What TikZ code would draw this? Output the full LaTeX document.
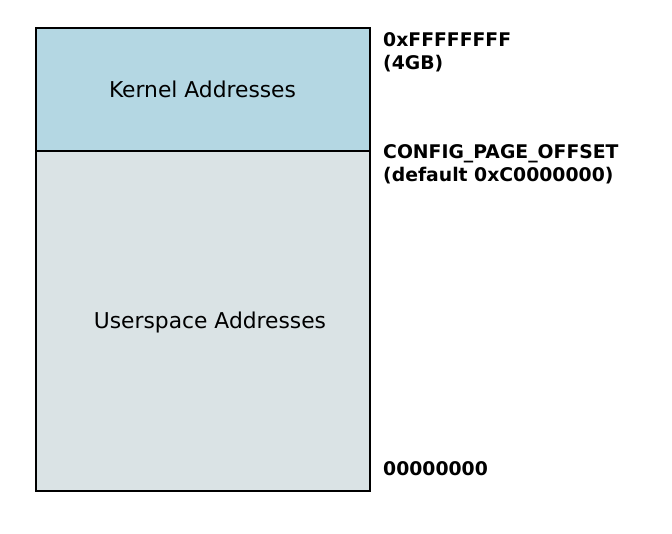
\documentclass[tikz,border=0pt]{standalone}
\usepackage{fontspec}
\setmainfont{DejaVu Sans}
\begin{document}
\begin{tikzpicture}[x=1pt,y=-1pt,
  region/.style={draw=black, line width=2pt},
  regiontext/.style={font=\fontsize{21.8}{25}\selectfont, anchor=base, inner sep=0pt},
  addr/.style={font=\fontsize{18.8}{22}\selectfont\bfseries, anchor=base west, inner sep=0pt}]
\useasboundingbox (0,0) rectangle (672,534);
\fill[fill={rgb,255:red,180;green,215;blue,227}] (35.5,28.5) rectangle (370,151);
\fill[fill={rgb,255:red,218;green,227;blue,229}] (35.5,151) rectangle (370,491);
\draw[region] (35.5,28.5) rectangle (370,491);
\draw[region] (35.5,151) -- (370,151);
\node[regiontext] (kernel) at (202.5,97.7) {Kernel Addresses};
\node[regiontext] (user) at (210,329) {Userspace Addresses};
\node[addr] (top) at (383,47) {0xFFFFFFFF};
\node[addr] (topgb) at (383,69.5) {(4GB)};
\node[addr] (cfg) at (383,158.3) {CONFIG\_PAGE\_OFFSET};
\node[addr] (cfgdef) at (383,181.5) {(default 0xC0000000)};
\node[addr] (zero) at (383,475) {00000000};
\end{tikzpicture}
\end{document}
